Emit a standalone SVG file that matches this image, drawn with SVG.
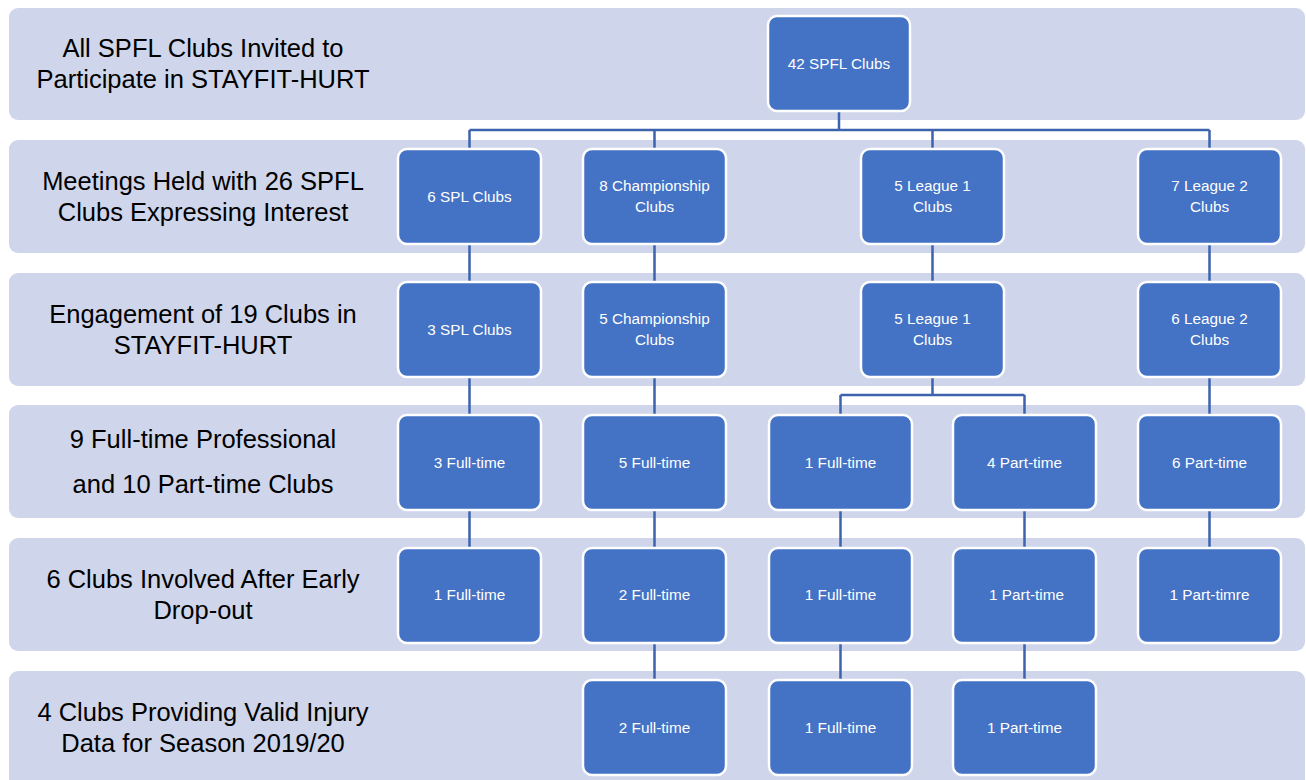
<svg xmlns="http://www.w3.org/2000/svg" width="1306" height="780" viewBox="0 0 1306 780">
<style>
.band{fill:#CFD5EA;}
.bt{font-family:"Liberation Sans",Arial,sans-serif;font-size:25.5px;fill:#000;text-anchor:middle;}
.node{fill:#4472C4;stroke:#FFFFFF;stroke-width:2.5;}
.nt{font-family:"Liberation Sans",Arial,sans-serif;font-size:15.3px;fill:#FFFFFF;text-anchor:middle;}
.conn{fill:none;stroke:#3D63AE;stroke-width:2.5;}
</style>
<rect width="1306" height="780" fill="#FFFFFF"/>
<g id="bands">
<g id="band1"><rect class="band" x="9" y="8" width="1296" height="112" rx="9"/><text class="bt" x="203" y="57">All SPFL Clubs Invited to</text><text class="bt" x="203" y="88">Participate in STAYFIT-HURT</text></g>
<g id="band2"><rect class="band" x="9" y="140" width="1296" height="113" rx="9"/><text class="bt" x="203" y="190">Meetings Held with 26 SPFL</text><text class="bt" x="203" y="221">Clubs Expressing Interest</text></g>
<g id="band3"><rect class="band" x="9" y="273" width="1296" height="113" rx="9"/><text class="bt" x="203" y="323">Engagement of 19 Clubs in</text><text class="bt" x="203" y="354">STAYFIT-HURT</text></g>
<g id="band4"><rect class="band" x="9" y="405" width="1296" height="113" rx="9"/><text class="bt" x="203" y="448">9 Full-time Professional</text><text class="bt" x="203" y="493">and 10 Part-time Clubs</text></g>
<g id="band5"><rect class="band" x="9" y="538" width="1296" height="113" rx="9"/><text class="bt" x="203" y="588">6 Clubs Involved After Early</text><text class="bt" x="203" y="619">Drop-out</text></g>
<g id="band6"><rect class="band" x="9" y="671" width="1296" height="120" rx="9"/><text class="bt" x="203" y="721">4 Clubs Providing Valid Injury</text><text class="bt" x="203" y="752">Data for Season 2019/20</text></g>
</g>
<g id="connectors">
<path class="conn" d="M839,111 V130 M469.5,130 H1209.5 M469.5,130 V149 M654.5,130 V149 M932.5,130 V149 M1209.5,130 V149"/>
<path class="conn" d="M469.5,244 V282 M654.5,244 V282 M932.5,244 V282 M1209.5,244 V282"/>
<path class="conn" d="M469.5,377 V415 M654.5,377 V415 M1209.5,377 V415 M932.5,377 V395 M840.5,395 H1024.5 M840.5,395 V415 M1024.5,395 V415"/>
<path class="conn" d="M469.5,510 V548 M654.5,510 V548 M840.5,510 V548 M1024.5,510 V548 M1209.5,510 V548"/>
<path class="conn" d="M654.5,643 V680 M840.5,643 V680 M1024.5,643 V680"/>
</g>
<g id="n42"><rect class="node" x="768" y="16" width="142" height="95" rx="9"/><text class="nt" x="839" y="69">42 SPFL Clubs</text></g>
<g id="r2a"><rect class="node" x="398" y="149" width="143" height="95" rx="9"/><text class="nt" x="469.5" y="202">6 SPL Clubs</text></g>
<g id="r2b"><rect class="node" x="583" y="149" width="143" height="95" rx="9"/><text class="nt" x="654.5" y="191">8 Championship</text><text class="nt" x="654.5" y="212">Clubs</text></g>
<g id="r2d"><rect class="node" x="861" y="149" width="143" height="95" rx="9"/><text class="nt" x="932.5" y="191">5 League 1</text><text class="nt" x="932.5" y="212">Clubs</text></g>
<g id="r2f"><rect class="node" x="1138" y="149" width="143" height="95" rx="9"/><text class="nt" x="1209.5" y="191">7 League 2</text><text class="nt" x="1209.5" y="212">Clubs</text></g>
<g id="r3a"><rect class="node" x="398" y="282" width="143" height="95" rx="9"/><text class="nt" x="469.5" y="335">3 SPL Clubs</text></g>
<g id="r3b"><rect class="node" x="583" y="282" width="143" height="95" rx="9"/><text class="nt" x="654.5" y="324">5 Championship</text><text class="nt" x="654.5" y="345">Clubs</text></g>
<g id="r3d"><rect class="node" x="861" y="282" width="143" height="95" rx="9"/><text class="nt" x="932.5" y="324">5 League 1</text><text class="nt" x="932.5" y="345">Clubs</text></g>
<g id="r3f"><rect class="node" x="1138" y="282" width="143" height="95" rx="9"/><text class="nt" x="1209.5" y="324">6 League 2</text><text class="nt" x="1209.5" y="345">Clubs</text></g>
<g id="r4a"><rect class="node" x="398" y="415" width="143" height="95" rx="9"/><text class="nt" x="469.5" y="468">3 Full-time</text></g>
<g id="r4b"><rect class="node" x="583" y="415" width="143" height="95" rx="9"/><text class="nt" x="654.5" y="468">5 Full-time</text></g>
<g id="r4c"><rect class="node" x="769" y="415" width="143" height="95" rx="9"/><text class="nt" x="840.5" y="468">1 Full-time</text></g>
<g id="r4e"><rect class="node" x="953" y="415" width="143" height="95" rx="9"/><text class="nt" x="1024.5" y="468">4 Part-time</text></g>
<g id="r4f"><rect class="node" x="1138" y="415" width="143" height="95" rx="9"/><text class="nt" x="1209.5" y="468">6 Part-time</text></g>
<g id="r5a"><rect class="node" x="398" y="548" width="143" height="95" rx="9"/><text class="nt" x="469.5" y="600">1 Full-time</text></g>
<g id="r5b"><rect class="node" x="583" y="548" width="143" height="95" rx="9"/><text class="nt" x="654.5" y="600">2 Full-time</text></g>
<g id="r5c"><rect class="node" x="769" y="548" width="143" height="95" rx="9"/><text class="nt" x="840.5" y="600">1 Full-time</text></g>
<g id="r5e"><rect class="node" x="953" y="548" width="143" height="95" rx="9"/><text class="nt" x="1026.5" y="600">1 Part-time</text></g>
<g id="r5f"><rect class="node" x="1138" y="548" width="143" height="95" rx="9"/><text class="nt" x="1209.5" y="600">1 Part-timre</text></g>
<g id="r6b"><rect class="node" x="583" y="680" width="143" height="95" rx="9"/><text class="nt" x="654.5" y="733">2 Full-time</text></g>
<g id="r6c"><rect class="node" x="769" y="680" width="143" height="95" rx="9"/><text class="nt" x="840.5" y="733">1 Full-time</text></g>
<g id="r6e"><rect class="node" x="953" y="680" width="143" height="95" rx="9"/><text class="nt" x="1024.5" y="733">1 Part-time</text></g>
</svg>
